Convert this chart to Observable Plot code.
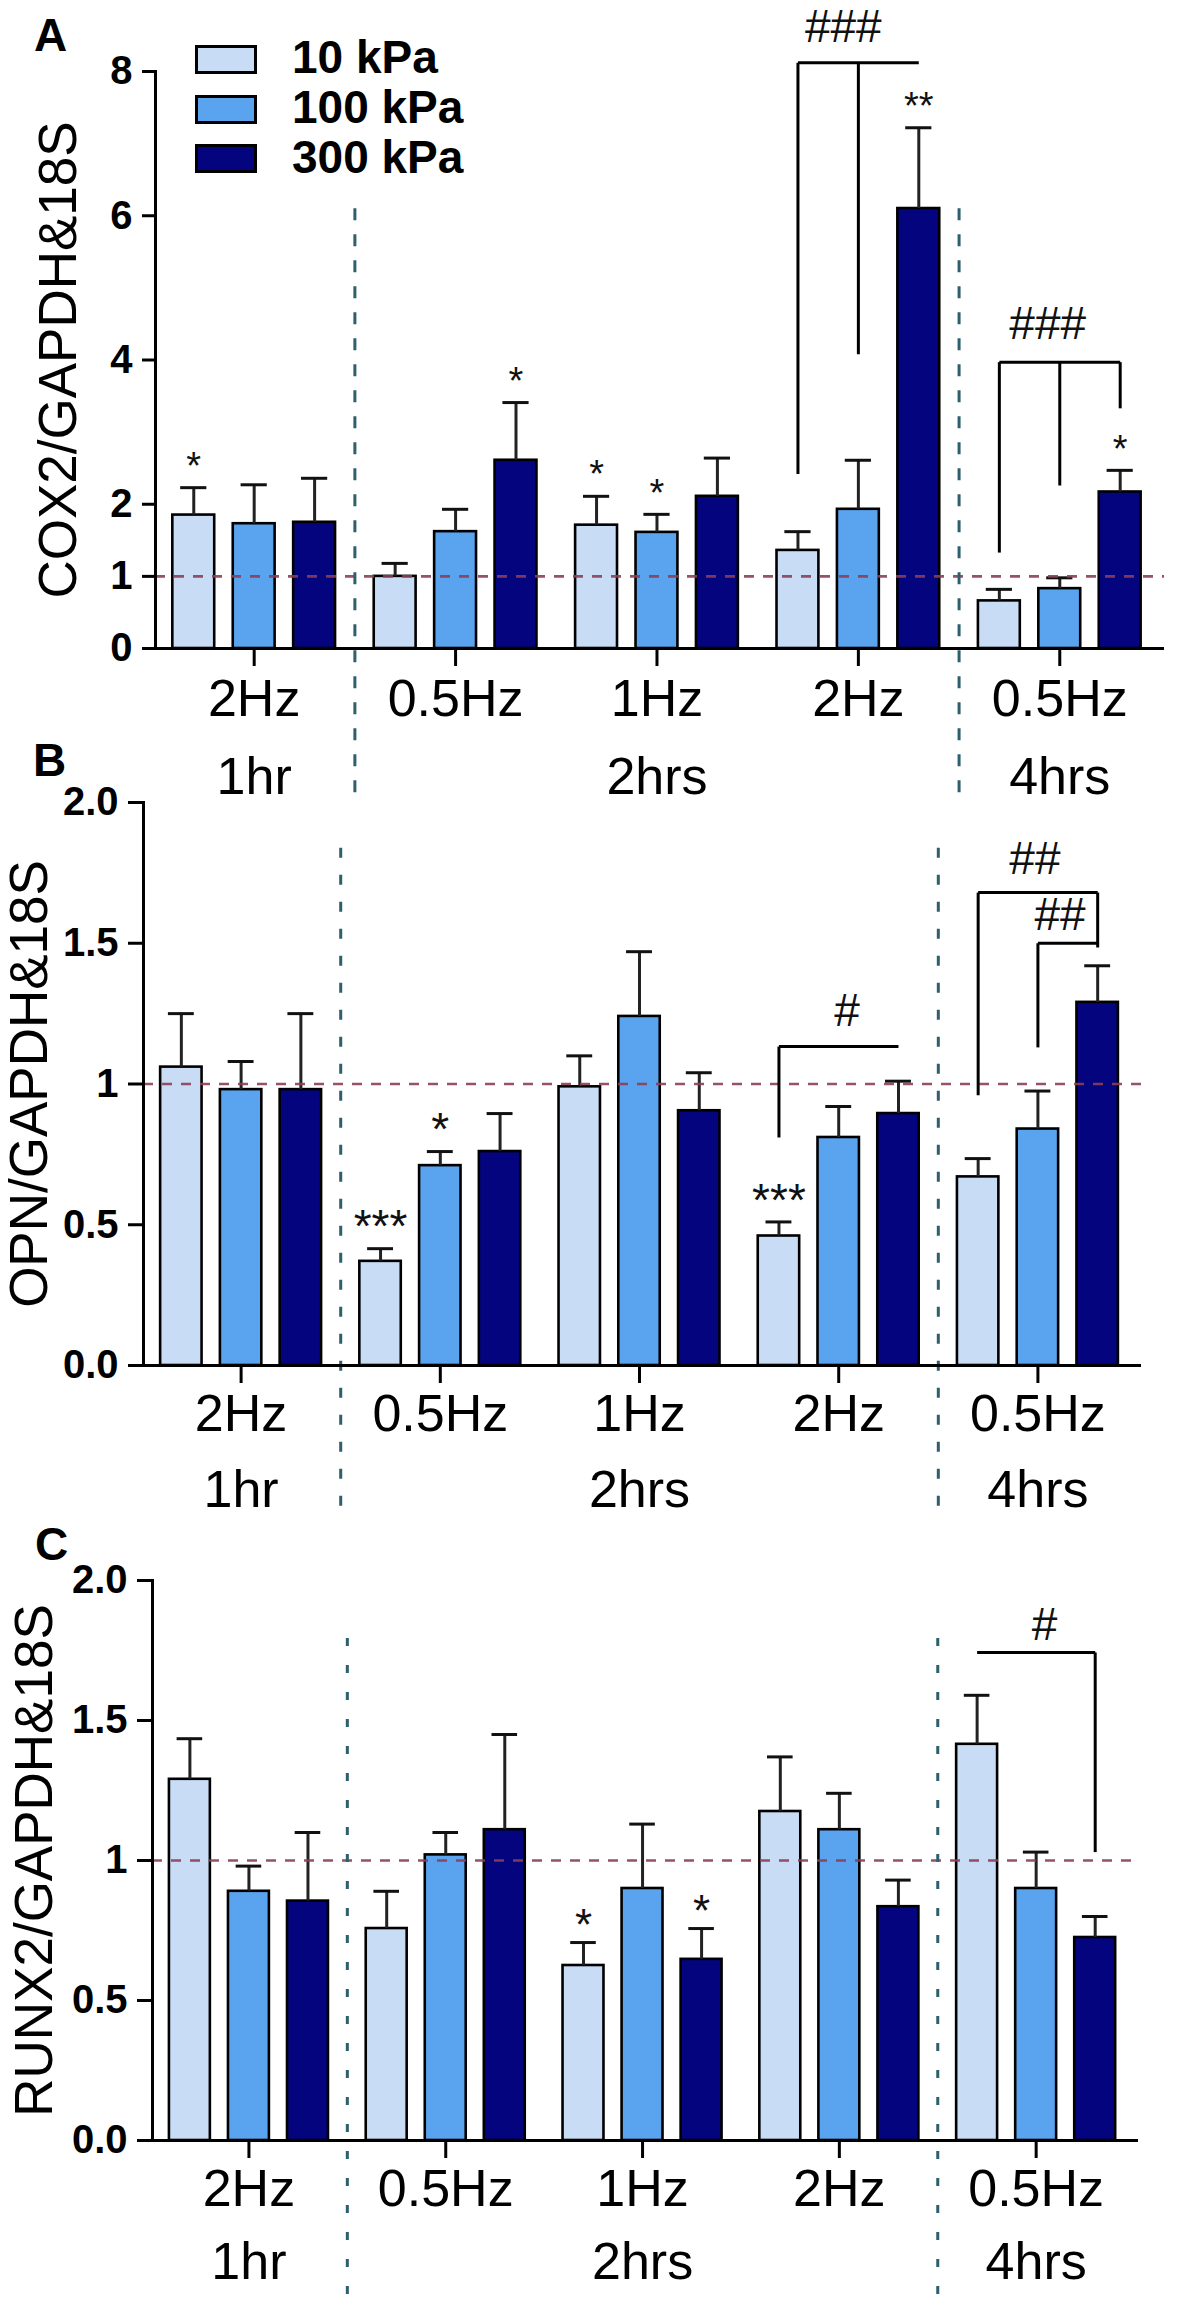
<!DOCTYPE html>
<html>
<head>
<meta charset="utf-8">
<script src="https://cdn.jsdelivr.net/npm/d3@7"></script>
<script src="https://cdn.jsdelivr.net/npm/@observablehq/plot@0.6"></script>
<style>
  html, body { margin: 0; padding: 0; background: #fff; }
  #root { position: relative; width: 1181px; height: 2297px; overflow: hidden;
          font-family: "Liberation Sans", Arial, sans-serif; color: #000; }
  .panel { position: absolute; left: 0; }
  .panel svg { overflow: visible; }
  .letter { position: absolute; font-weight: bold; font-size: 46px; line-height: 1; }
  .lg-box { position: absolute; left: 195px; width: 62px; height: 29px; box-sizing: border-box; border: 3px solid #000; }
  .lg-text { position: absolute; left: 292px; font-weight: bold; font-size: 46px; line-height: 1; }
</style>
</head>
<body>
<div id="root"></div>
<script>
// ---------- data ----------
const pressures = ["10 kPa", "100 kPa", "300 kPa"];
const pressureColors = ["#c8dcf6", "#5aa3ee", "#04047f"];
const frequencies = ["2Hz", "0.5Hz", "1Hz", "2Hz", "0.5Hz"];
const durations = ["1hr", "2hrs", "4hrs"];
const durationGroups = [[0], [1, 2, 3], [4]];

// Panel A: COX2
const cox2Mean = [[1.85, 1.73, 1.75], [1.00, 1.62, 2.61], [1.71, 1.61, 2.11], [1.36, 1.93, 6.10], [0.66, 0.83, 2.17]];
const cox2Sem  = [[0.38, 0.54, 0.61], [0.18, 0.31, 0.80], [0.40, 0.25, 0.53], [0.26, 0.68, 1.12], [0.16, 0.15, 0.30]];
const cox2Ticks = [0, 1, 2, 4, 6, 8];
const cox2TickLabels = ["0", "1", "2", "4", "6", "8"];
const cox2Stars = [
  {g: 0, p: 0, text: "*"}, {g: 1, p: 2, text: "*"}, {g: 2, p: 0, text: "*"},
  {g: 2, p: 1, text: "*"}, {g: 3, p: 2, text: "**"}, {g: 4, p: 2, text: "*"}
];
const cox2Brackets = [
  {group: 3, from: 0, to: 2, top: 8.12, legs: [[0, 2.42], [1, 4.08]]},
  {group: 4, from: 0, to: 2, top: 3.97, legs: [[0, 1.33], [1, 2.26], [2, 3.33]]}
];
const cox2Hashes = [{g: 3, p: 0.75, y: 8.62, text: "###"}, {g: 4, p: 0.8, y: 4.49, text: "###"}];

// Panel B: OPN
const opnMean = [[1.06, 0.98, 0.98], [0.37, 0.71, 0.76], [0.99, 1.24, 0.905], [0.46, 0.81, 0.895], [0.67, 0.84, 1.29]];
const opnSem  = [[0.19, 0.10, 0.27], [0.045, 0.05, 0.135], [0.11, 0.23, 0.135], [0.05, 0.11, 0.115], [0.065, 0.135, 0.13]];
const opnTicks = [0, 0.5, 1, 1.5, 2];
const opnTickLabels = ["0.0", "0.5", "1", "1.5", "2.0"];
const opnStars = [{g: 1, p: 0, text: "***"}, {g: 1, p: 1, text: "*"}, {g: 3, p: 0, text: "***"}];
const opnBrackets = [
  {group: 3, from: 0, to: 2, top: 1.133, legs: [[0, 0.81]]},
  {group: 4, from: 0, to: 2, top: 1.68, legs: [[0, 0.96], [2, 1.485]]},
  {group: 4, from: 1, to: 2, top: 1.50, legs: [[1, 1.13]]}
];
const opnHashes = [{g: 3, p: 1.14, y: 1.26, text: "#"}, {g: 4, p: 0.95, y: 1.80, text: "##"}, {g: 4, p: 1.37, y: 1.60, text: "##"}];

// Panel C: RUNX2
const runxMean = [[1.29, 0.89, 0.855], [0.757, 1.02, 1.11], [0.625, 0.90, 0.647], [1.175, 1.11, 0.835], [1.415, 0.90, 0.725]];
const runxSem  = [[0.145, 0.09, 0.245], [0.133, 0.08, 0.34], [0.082, 0.23, 0.11], [0.195, 0.13, 0.095], [0.175, 0.13, 0.075]];
const runxTicks = [0, 0.5, 1, 1.5, 2];
const runxTickLabels = ["0.0", "0.5", "1", "1.5", "2.0"];
const runxStars = [{g: 2, p: 0, text: "*"}, {g: 2, p: 2, text: "*"}];
const runxBrackets = [{group: 4, from: 0, to: 2, top: 1.743, legs: [[2, 1.03]]}];
const runxHashes = [{g: 4, p: 1.14, y: 1.84, text: "#"}];

const referenceLevel = 1;

// ---------- layout constants ----------
const BAR_STEP = 0.30, BAR_HALF = 0.104, CAP_HALF = 0.065;
const X_DOMAIN = [-0.49, 4.52];
const FONT = "Liberation Sans, Arial, sans-serif";

const root = document.getElementById("root");

function pos(g, p) { return g + (p - 1) * BAR_STEP; }

function makePanel(cfg) {
  const bars = [];
  cfg.mean.forEach((row, g) => row.forEach((m, p) =>
    bars.push({g, p, pressure: pressures[p], mean: m, top: m + cfg.sem[g][p]})));
  const segs = [];
  for (const b of cfg.brackets) {
    segs.push({x1: pos(b.group, b.from), x2: pos(b.group, b.to), y1: b.top, y2: b.top});
    for (const [p, bottom] of b.legs) segs.push({x1: pos(b.group, p), x2: pos(b.group, p), y1: bottom, y2: b.top});
  }
  const stars = cfg.stars.map(s => ({...s, y: cfg.mean[s.g][s.p] + cfg.sem[s.g][s.p]}));
  const dividers = durationGroups.slice(1).map(gs => gs[0] - 0.5);
  const L = cfg.layout;

  const chart = Plot.plot({
    width: 1181, height: L.height,
    marginTop: L.mt, marginBottom: L.mb, marginLeft: L.ml, marginRight: L.mr,
    style: {fontFamily: FONT, background: "transparent", overflow: "visible", color: "#000"},
    x: {domain: X_DOMAIN, axis: null},
    y: {domain: cfg.yDomain, axis: null},
    color: {domain: pressures, range: pressureColors},
    marks: [
      Plot.rect(bars, {x1: d => pos(d.g, d.p) - BAR_HALF, x2: d => pos(d.g, d.p) + BAR_HALF,
        y1: 0, y2: "mean", fill: "pressure", stroke: "#000", strokeWidth: 2.6}),
      Plot.ruleX(bars, {x: d => pos(d.g, d.p), y1: "mean", y2: "top", stroke: "#222", strokeWidth: 3}),
      Plot.ruleY(bars, {y: "top", x1: d => pos(d.g, d.p) - CAP_HALF, x2: d => pos(d.g, d.p) + CAP_HALF, stroke: "#111", strokeWidth: 3}),
      Plot.ruleY([referenceLevel], {stroke: "#8b3f55", strokeOpacity: 0.9, strokeWidth: 2.6, strokeDasharray: "10,9"}),
      Plot.ruleX(dividers, {x: d => d, y1: L.divY[0], y2: L.divY[1], stroke: "#2d5f6c", strokeWidth: 3, strokeDasharray: L.divDash}),
      Plot.frame({anchor: "left", strokeWidth: 3}),
      Plot.ruleY([0], {strokeWidth: 3}),
      Plot.axisY({ticks: cfg.yTicks, tickFormat: d => cfg.yTickLabels[cfg.yTicks.indexOf(d)],
        tickSize: L.ytick, tickPadding: 10, fontSize: 40, fontWeight: "bold", strokeWidth: 3, label: null}),
      Plot.axisX({ticks: frequencies.map((f, i) => i), tickFormat: i => frequencies[i],
        tickSize: 18, tickPadding: L.xpad, fontSize: 52, strokeWidth: 3, label: null}),
      Plot.text(durations, {x: (d, i) => d3.mean(durationGroups[i]), text: d => d,
        frameAnchor: "bottom", dy: L.durDy, fontSize: 52, lineAnchor: "middle"}),
      Plot.text([cfg.yLabel], {text: d => d, frameAnchor: "left", textAnchor: "middle", rotate: -90,
        dx: L.labDx, fontSize: 53, lineAnchor: "middle"}),
      Plot.link(segs, {x1: "x1", x2: "x2", y1: "y1", y2: "y2", stroke: "#000", strokeWidth: 3}),
      Plot.text(stars, {x: d => pos(d.g, d.p), y: "y", text: "text", dy: L.starDy, fontSize: L.starSize,
        lineAnchor: "middle", fill: "#111"}),
      Plot.text(cfg.hashes, {x: d => pos(d.g, d.p), y: "y", text: "text", fontSize: 46, lineAnchor: "middle", fill: "#111"})
    ]
  });
  const wrap = document.createElement("div");
  wrap.className = "panel";
  wrap.style.top = L.top + "px";
  wrap.appendChild(chart);
  root.appendChild(wrap);
}

makePanel({
  mean: cox2Mean, sem: cox2Sem, stars: cox2Stars, brackets: cox2Brackets, hashes: cox2Hashes,
  yTicks: cox2Ticks, yTickLabels: cox2TickLabels, yDomain: [0, 8], yLabel: "COX2/GAPDH&18S",
  layout: {top: 0, height: 800, mt: 71, mb: 152, ml: 155, mr: 17, ytick: 13, xpad: 13, durDy: 129,
           labDx: -96, divY: [-2.0, 6.26], divDash: "12,14", starSize: 38, starDy: -21}
});
makePanel({
  mean: opnMean, sem: opnSem, stars: opnStars, brackets: opnBrackets, hashes: opnHashes,
  yTicks: opnTicks, yTickLabels: opnTickLabels, yDomain: [0, 2], yLabel: "OPN/GAPDH&18S",
  layout: {top: 720, height: 800, mt: 82, mb: 155, ml: 143, mr: 40, ytick: 15, xpad: 11, durDy: 125,
           labDx: -113, divY: [-0.5, 1.85], divDash: "10,17", starSize: 46, starDy: -21}
});
makePanel({
  mean: runxMean, sem: runxSem, stars: runxStars, brackets: runxBrackets, hashes: runxHashes,
  yTicks: runxTicks, yTickLabels: runxTickLabels, yDomain: [0, 2], yLabel: "RUNX2/GAPDH&18S",
  layout: {top: 1500, height: 797, mt: 80, mb: 157, ml: 152, mr: 43, ytick: 15, xpad: 11, durDy: 122,
           labDx: -117, divY: [-0.55, 1.83], divDash: "8,19", starSize: 44, starDy: -17}
});

// panel letters
[["A", 34, 12], ["B", 33, 737], ["C", 35, 1521]].forEach(([t, x, y]) => {
  const el = document.createElement("div");
  el.className = "letter"; el.textContent = t;
  el.style.left = x + "px"; el.style.top = y + "px";
  root.appendChild(el);
});

// legend (panel A)
const legendBoxTops = [45, 95, 144];
const legendTextTops = [34, 84, 134];
pressures.forEach((p, i) => {
  const box = document.createElement("div");
  box.className = "lg-box"; box.style.top = legendBoxTops[i] + "px"; box.style.background = pressureColors[i];
  root.appendChild(box);
  const tx = document.createElement("div");
  tx.className = "lg-text"; tx.style.top = legendTextTops[i] + "px"; tx.textContent = p;
  root.appendChild(tx);
});
</script>
</body>
</html>
